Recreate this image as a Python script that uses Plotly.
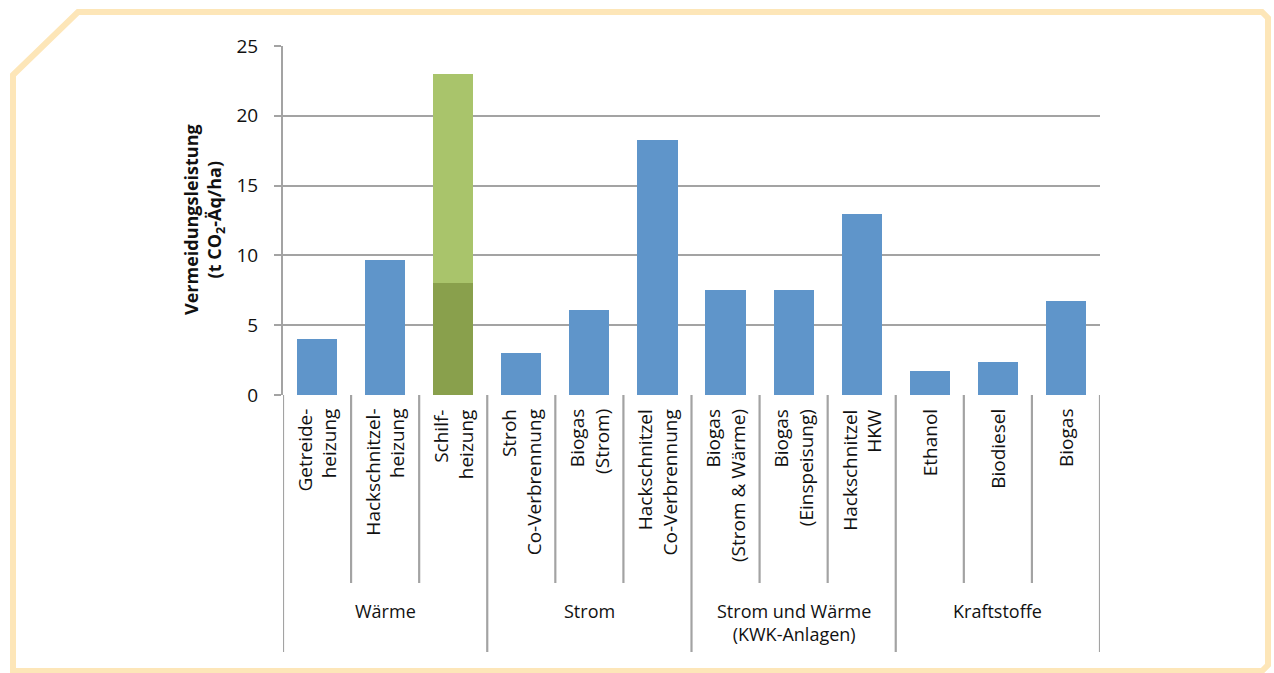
import plotly.graph_objects as go

# Category data
categories = [
    "Getreide-<br>heizung",
    "Hackschnitzel-<br>heizung",
    "Schilf-<br>heizung",
    "Stroh<br>Co-Verbrennung",
    "Biogas<br>(Strom)",
    "Hackschnitzel<br>Co-Verbrennung",
    "Biogas<br>(Strom & Wärme)",
    "Biogas<br>(Einspeisung)",
    "Hackschnitzel<br>HKW",
    "Ethanol",
    "Biodiesel",
    "Biogas",
]
groups = ["Wärme", "Strom", "Strom und Wärme<br>(KWK-Anlagen)", "Kraftstoffe"]
group_sizes = [3, 3, 3, 3]

# Avoidance values (t CO2-Äq/ha); Schilf split into lower and upper part
lower_values = [4.0, 9.7, 8.0, 3.0, 6.1, 18.3, 7.5, 7.5, 13.0, 1.7, 2.4, 6.7]
upper_values = [0, 0, 15.0, 0, 0, 0, 0, 0, 0, 0, 0, 0]

y_ticks = [0, 5, 10, 15, 20, 25]

BLUE = "#5f95ca"
DARK_GREEN = "#89a04c"
LIGHT_GREEN = "#a9c46b"
GRID = "#a3a3a3"
FRAME = "#fde6b8"
FONT = "Open Sans"
TEXT = "#111111"

W, H = 1274, 673
L, R, T, B = 283, 1100, 46, 395  # plot area in pixels

def px(x):
    return (x - L) / (R - L)

def py(y):
    return (B - y) / (B - T)

x_idx = list(range(len(categories)))
lower_colors = [DARK_GREEN if u > 0 else BLUE for u in upper_values]

fig = go.Figure()
fig.add_trace(go.Bar(x=x_idx, y=lower_values, marker=dict(color=lower_colors, line=dict(width=0)),
                     hoverinfo="skip"))
fig.add_trace(go.Bar(x=x_idx, y=upper_values, marker=dict(color=LIGHT_GREEN, line=dict(width=0)),
                     hoverinfo="skip"))

shapes = []
annotations = []

# category labels, rotated
for i, lab in enumerate(categories):
    annotations.append(dict(
        x=i, xref="x", y=0, yref="paper", yanchor="top", xanchor="center",
        yshift=-12, text=lab, textangle=-90, align="right", showarrow=False,
        font=dict(family=FONT, size=19, color=TEXT),
    ))

# separators between categories and groups
boundaries = [-0.5]
pos = -0.5
for n in group_sizes:
    for k in range(n):
        pos += 1
        boundaries.append(pos)
group_ends = set()
acc = -0.5
group_ends.add(acc)
for n in group_sizes:
    acc += n
    group_ends.add(acc)
for b in boundaries:
    bottom = 652 if b in group_ends else 583
    shapes.append(dict(type="line", xref="x", yref="paper", x0=b, x1=b,
                       y0=0, y1=py(bottom), line=dict(color=GRID, width=2.2)))

# group labels
start = 0
for g, n in zip(groups, group_sizes):
    annotations.append(dict(
        x=start + (n - 1) / 2, xref="x", y=py(597), yref="paper", yanchor="top",
        xanchor="center", text=g, showarrow=False, align="center",
        font=dict(family=FONT, size=18, color=TEXT),
    ))
    start += n

# y axis title
annotations.append(dict(
    x=px(204), xref="paper", y=py(220), yref="paper", xanchor="center", yanchor="middle",
    text="<b>Vermeidungsleistung</b><br><b>(t CO<sub>2</sub>-Äq/ha)</b>", textangle=-90,
    showarrow=False, align="center", font=dict(family=FONT, size=18, color=TEXT),
))

# decorative frame with beveled top-left corner
frame_pts = [(13, 75), (78, 12), (1262, 12), (1268, 18), (1268, 665), (1262, 671),
             (13, 671)]
path = "M " + " L ".join(f"{px(x):.5f},{py(y):.5f}" for x, y in frame_pts) + " Z"
shapes.append(dict(type="path", xref="paper", yref="paper", path=path,
                   line=dict(color=FRAME, width=6), layer="below"))

fig.update_layout(
    width=W, height=H,
    margin=dict(l=L, r=W - R, t=T, b=H - B, pad=0),
    paper_bgcolor="white", plot_bgcolor="white",
    barmode="stack", bargap=0.41, showlegend=False,
    shapes=shapes, annotations=annotations,
    font=dict(family=FONT, size=18, color=TEXT),
)
fig.update_xaxes(range=[-0.5, len(categories) - 0.5], showticklabels=False,
                 showgrid=False, zeroline=False, showline=False, fixedrange=True)
fig.update_yaxes(range=[0, 25], tickvals=y_ticks, ticks="outside", ticklen=7,
                 tickwidth=2, tickcolor=GRID, showline=True, linecolor=GRID, linewidth=2,
                 gridcolor=GRID, gridwidth=2, zeroline=False, ticklabelstandoff=12,
                 tickfont=dict(family=FONT, size=19, color=TEXT), fixedrange=True)

fig.write_html("out.html", config={"displayModeBar": False})
